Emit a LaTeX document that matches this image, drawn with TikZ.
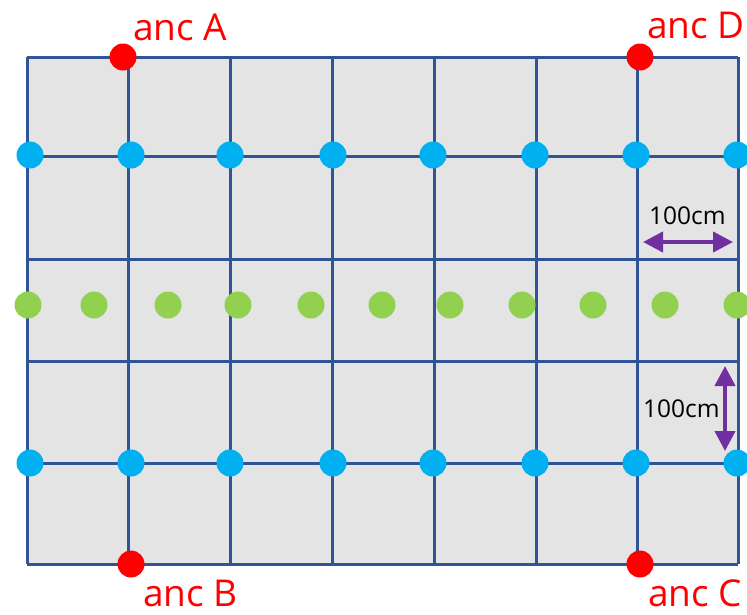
\documentclass[tikz,border=0pt]{standalone}
\usepackage{fontspec}
\setmainfont{Open Sans}
\usetikzlibrary{arrows.meta}
\definecolor{gridblue}{HTML}{2F5597}
\definecolor{cellgray}{HTML}{E4E4E4}
\definecolor{dotblue}{HTML}{00B0F0}
\definecolor{dotgreen}{HTML}{92D050}
\definecolor{dotred}{HTML}{FF0000}
\definecolor{arrowpurple}{HTML}{7030A0}
\tikzset{
  gridline/.style={draw=gridblue, line width=3pt},
  dot/.style={circle, inner sep=0pt, minimum size=27pt, draw=none},
  bluedot/.style={dot, fill=dotblue},
  greendot/.style={dot, fill=dotgreen},
  reddot/.style={dot, fill=dotred},
  anclabel/.style={text=dotred, font=\fontsize{37}{40}\selectfont, inner sep=0pt, anchor=base west},
  dimlabel/.style={text=black, font=\fontsize{24.5}{27}\selectfont, inner sep=0pt, anchor=base west},
  dimarrow/.style={draw=arrowpurple, line width=4pt, {Triangle[length=20pt,width=20pt]}-{Triangle[length=20pt,width=20pt]}}
}
\begin{document}
\begin{tikzpicture}[x=1pt,y=-1pt]
\useasboundingbox (0,0) rectangle (747,614);
% grid
\fill[cellgray] (27,57) rectangle (738,564);
\foreach \x in {27,128,230,332,434,536,637,738}
  \draw[gridline] (\x,57) -- (\x,564);
\foreach \y in {57,156,259,361,463,564}
  \draw[gridline] (27,\y) -- (738,\y);
% blue dots
\foreach \x [count=\i] in {30,131,230,333,433,535,636,737} {
  \node[bluedot] (bt\i) at (\x,155) {};
  \node[bluedot] (bb\i) at (\x,463) {};
}
% green dots
\foreach \x [count=\i] in {28,94,168,238,311,382,450,522,593,665,737}
  \node[greendot] (g\i) at (\x,305) {};
% red anchors
\node[reddot] (ancA) at (123,57) {};
\node[reddot] (ancB) at (131,564) {};
\node[reddot] (ancC) at (640,564) {};
\node[reddot] (ancD) at (640,57) {};
\node[anclabel] (labA) at (133,40) {anc A};
\node[anclabel] (labB) at (143,606) {anc B};
\node[anclabel] (labC) at (648,606) {anc C};
\node[anclabel] (labD) at (647,38) {anc D};
% dimension arrows
\coordinate (h1) at (643,242);
\coordinate (h2) at (733,242);
\draw[dimarrow] (h1) -- (h2);
\node[dimlabel] (dimH) at (649,224) {100cm};
\coordinate (v1) at (725,366);
\coordinate (v2) at (725,451);
\draw[dimarrow] (v1) -- (v2);
\node[dimlabel] (dimV) at (643,417) {100cm};
\end{tikzpicture}
\end{document}
